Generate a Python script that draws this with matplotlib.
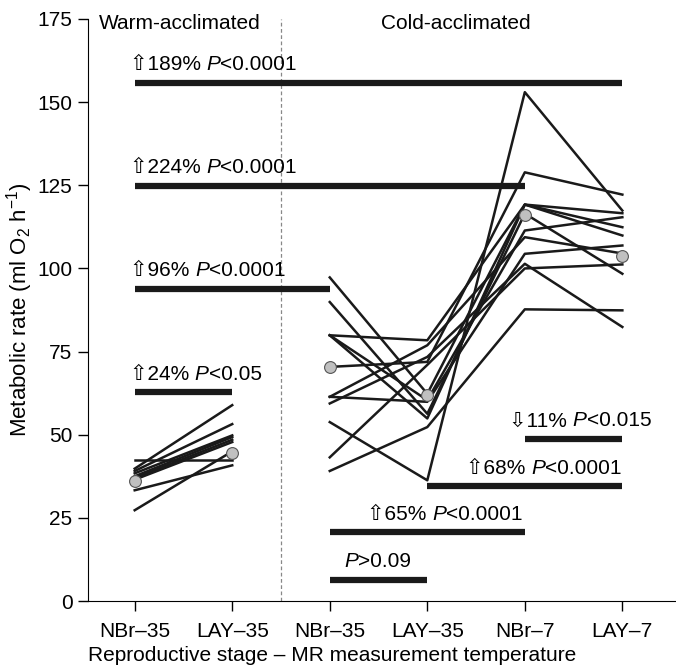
import numpy as np
import matplotlib
matplotlib.use('Agg')
import matplotlib.pyplot as plt
from matplotlib.offsetbox import TextArea, HPacker, AnnotationBbox

plt.rcParams['font.family'] = ['Liberation Sans', 'DejaVu Sans']
plt.rcParams['mathtext.fontset'] = 'custom'
plt.rcParams['mathtext.rm'] = 'Liberation Sans'
plt.rcParams['mathtext.it'] = 'Liberation Sans:italic'

# categories
tick_labels = ['NBr\u201335', 'LAY\u201335', 'NBr\u201335', 'LAY\u201335', 'NBr\u20137', 'LAY\u20137']

# warm-acclimated individuals: NBr-35, LAY-35
warm_nbr35 = [42.3, 27.3, 33.3, 39.8, 39.1, 38.4, 37.5, 37.0, 36.5]
warm_lay35 = [42.3, 45.0, 40.8, 58.9, 53.2, 49.8, 49.3, 48.5, 47.8]

# cold-acclimated individuals: NBr-35, LAY-35, NBr-7, LAY-7
cold_nbr35 = [97.3, 89.9, 79.9, 79.9, 79.9, 70.4, 61.4, 61.4, 59.4, 53.8, 43.2, 39.1]
cold_lay35 = [62.3, 56.3, 78.4, 60.4, 54.9, 71.9, 76.9, 59.9, 73.4, 36.3, 71.0, 52.3]
cold_nbr7 = [119.2, 116.5, 119.2, 111.4, 119.2, 128.9, 109.4, 104.4, 101.4, 153.0, 100.0, 87.7]
cold_lay7 = [112.4, 98.4, 116.6, 115.4, 109.9, 122.2, 104.5, 106.9, 82.4, 117.4, 101.2, 87.4]

# group means
warm_means = [36.0, 44.6]
cold_means = [70.3, 62.0, 116.0, 103.7]

# significance bars
bar_start = [0, 0, 0, 0, 4, 3, 2, 2]
bar_end = [5, 4, 2, 1, 5, 5, 4, 3]
bar_y = [155.8, 124.8, 93.8, 62.8, 48.7, 34.5, 20.7, 6.4]
bar_pre = ['\u21e7189% ', '\u21e7224% ', '\u21e796% ', '\u21e724% ',
           '\u21e911% ', '\u21e768% ', '\u21e765% ', '']
bar_post = ['<0.0001', '<0.0001', '<0.0001', '<0.05',
            '<0.015', '<0.0001', '<0.0001', '>0.09']
text_x = [-0.05, -0.05, -0.05, -0.05, 3.84, 3.4, 2.38, 2.15]

FS = 15

fig = plt.figure(figsize=(6.76, 6.69), dpi=100)
ax = fig.add_axes([0.130, 0.1016, 0.870, 0.870])

for a, b in zip(warm_nbr35, warm_lay35):
    ax.plot([0, 1], [a, b], color='#1a1a1a', lw=1.8, zorder=2)
for row in zip(cold_nbr35, cold_lay35, cold_nbr7, cold_lay7):
    ax.plot([2, 3, 4, 5], row, color='#1a1a1a', lw=1.8, zorder=2)

ax.plot([0, 1], warm_means, ls='none', marker='o', ms=8.5, mfc='#c0c0c0', mec='#555555', mew=0.8, zorder=4)
ax.plot([2, 3, 4, 5], cold_means, ls='none', marker='o', ms=8.5, mfc='#c0c0c0', mec='#555555', mew=0.8, zorder=4)


def stat_label(x, y, pre, post):
    parts = []
    if pre:
        parts.append(TextArea(pre, textprops=dict(fontsize=FS)))
    parts.append(TextArea('P', textprops=dict(fontsize=FS, style='italic')))
    parts.append(TextArea(post, textprops=dict(fontsize=FS)))
    box = HPacker(children=parts, pad=0, sep=0, align='baseline')
    ab = AnnotationBbox(box, (x, y), xycoords='data', box_alignment=(0, 0),
                        frameon=False, pad=0)
    ax.add_artist(ab)


for s, e, y, pre, post, tx in zip(bar_start, bar_end, bar_y, bar_pre, bar_post, text_x):
    ax.plot([s, e], [y, y], color='#1a1a1a', lw=4.5, solid_capstyle='butt', zorder=3)
    stat_label(tx, y + 2.6, pre, post)

ax.axvline(1.5, color='#888888', lw=0.9, ls=(0, (3, 2)), zorder=1)

ax.text(-0.37, 173.5, 'Warm-acclimated', fontsize=FS, ha='left', va='center')
ax.text(2.53, 173.5, 'Cold-acclimated', fontsize=FS, ha='left', va='center')

ax.set_xlim(-0.48, 5.55)
ax.set_ylim(0, 175)
ax.set_xticks(range(6))
ax.set_xticklabels(tick_labels)
ax.set_yticks([0, 25, 50, 75, 100, 125, 150, 175])
ax.tick_params(axis='both', labelsize=FS, length=7, width=1, direction='out')
ax.tick_params(axis='x', pad=8)
ax.tick_params(axis='y', pad=4)
ax.spines['top'].set_visible(False)
ax.spines['right'].set_visible(False)
ax.set_xlabel('Reproductive stage \u2013 MR measurement temperature', fontsize=FS)
ax.xaxis.set_label_coords(0.415, -0.077)
ax.set_ylabel('Metabolic rate (ml O$_2$ h$^{-1}$)', fontsize=16, labelpad=2)

fig.savefig('out.png', dpi=100)
